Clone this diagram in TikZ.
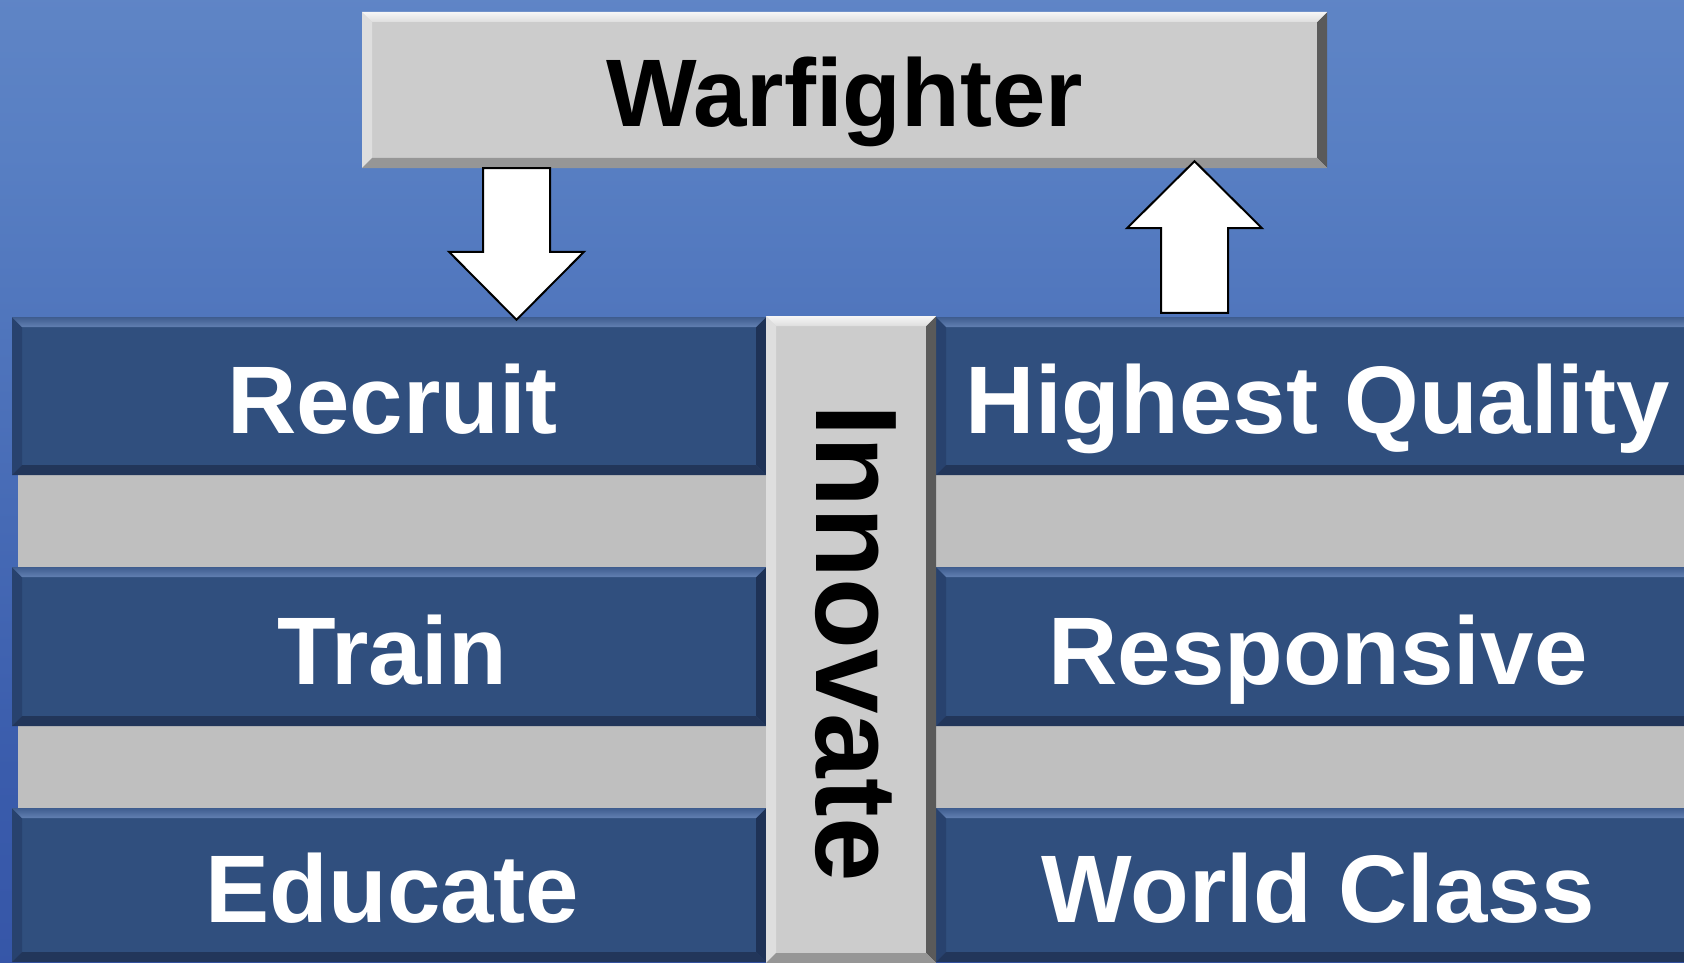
\documentclass[tikz,border=0pt]{standalone}
\usepackage{fontspec}
\setmainfont{Liberation Sans}
\usetikzlibrary{calc}
\definecolor{bgtop}{RGB}{116,150,206}
\definecolor{bgmid}{RGB}{88,127,195}
\definecolor{bgmidb}{RGB}{58,92,172}
\definecolor{bgbot}{RGB}{44,72,158}
\definecolor{bface}{RGB}{48,79,126}
\definecolor{btopa}{RGB}{62,92,142}
\definecolor{btopb}{RGB}{98,128,178}
\definecolor{bleft}{RGB}{40,66,110}
\definecolor{bright}{RGB}{30,50,86}
\definecolor{bbot}{RGB}{34,54,90}
\definecolor{gface}{RGB}{204,204,204}
\definecolor{gtopa}{RGB}{246,246,246}
\definecolor{gtopb}{RGB}{222,222,222}
\definecolor{gleft}{RGB}{222,222,222}
\definecolor{gright}{RGB}{90,90,90}
\definecolor{gbot}{RGB}{150,150,150}
\definecolor{band}{RGB}{191,191,191}
\pgfdeclareverticalshading{bgshade}{100bp}{color(0bp)=(bgbot); color(35bp)=(bgmidb); color(67bp)=(bgmid); color(100bp)=(bgtop)}
\newcommand\boxfont{\fontsize{96pt}{96pt}\selectfont\bfseries}
\newcommand\innfont{\fontsize{116pt}{116pt}\selectfont\bfseries}
\tikzset{
  bevel/.style n args={5}{path picture={
    \path (path picture bounding box.north west) coordinate (pNW)
          (path picture bounding box.north east) coordinate (pNE)
          (path picture bounding box.south west) coordinate (pSW)
          (path picture bounding box.south east) coordinate (pSE);
    \fill[#3] (pNW) -- (pSW) -- ([shift={(#1,#1)}]pSW) -- ([shift={(#1,-#1)}]pNW) -- cycle;
    \fill[#4] (pNE) -- (pSE) -- ([shift={(-#1,#1)}]pSE) -- ([shift={(-#1,-#1)}]pNE) -- cycle;
    \fill[#5] (pSW) -- (pSE) -- ([shift={(-#1,#1)}]pSE) -- ([shift={(#1,#1)}]pSW) -- cycle;
    \shade[#2] (pNW) -- (pNE) -- ([shift={(-#1,-#1)}]pNE) -- ([shift={(#1,-#1)}]pNW) -- cycle;
  }},
  bluebox/.style={rectangle, fill=bface, text=white, font=\boxfont,
    text height=75pt, text depth=0pt, inner sep=0pt,
    bevel={10}{top color=btopa, bottom color=btopb}{fill=bleft}{fill=bright}{fill=bbot}},
  graybox/.style={rectangle, fill=gface, text=black, inner sep=0pt,
    bevel={10}{top color=gtopa, bottom color=gtopb}{fill=gleft}{fill=gright}{fill=gbot}},
  bandbox/.style={rectangle, fill=band, inner sep=0pt},
  blockarrow/.style={fill=white, draw=black, line width=2pt, line join=miter},
}
\begin{document}
\begin{tikzpicture}[x=1pt,y=1pt]
\useasboundingbox (0,0) rectangle (1684,-963);
\clip (0,0) rectangle (1684,-963);
\shade[shading=bgshade] (0,0) rectangle (1684,-963);
% gray bands
\node[bandbox, minimum width=748, minimum height=92] (bandL1) at (392,-521) {};
\node[bandbox, minimum width=748, minimum height=82] (bandL2) at (392,-767) {};
\node[bandbox, minimum width=750, minimum height=92] (bandR1) at (1311,-521) {};
\node[bandbox, minimum width=750, minimum height=82] (bandR2) at (1311,-767) {};
% top box
\node[graybox, font=\boxfont, text height=73pt, text depth=0pt, minimum width=965, minimum height=156] (warf) at (844.5,-90) {Warfighter};
% left column
\node[bluebox, minimum width=754, minimum height=158] (recruit) at (389,-396) {\hspace*{7pt}Recruit};
\node[bluebox, minimum width=754, minimum height=159] (train) at (389,-646.5) {\hspace*{7pt}Train};
\node[bluebox, minimum width=754, minimum height=154] (educate) at (389,-885) {\hspace*{7pt}Educate};
% right column
\node[bluebox, minimum width=764, minimum height=158] (hq) at (1318,-396) {Highest Quality};
\node[bluebox, minimum width=764, minimum height=159] (resp) at (1318,-646.5) {Responsive};
\node[bluebox, minimum width=764, minimum height=154] (world) at (1318,-885) {World Class};
% center bar
\node[graybox, minimum width=170, minimum height=647] (innov) at (851,-639.5) {};
\node[font=\innfont, text=black, text height=83pt, text depth=0pt, inner sep=0pt, rotate=-90] (innovt) at (858,-643) {Innovate};
% arrows
\draw[blockarrow] let \p1=(warf.south), \p2=(recruit.north) in
  (483pt,\y1) -- (550pt,\y1) -- (550pt,\y2+65pt) -- (584pt,\y2+65pt) -- (516.5pt,\y2-3pt)
  -- (449pt,\y2+65pt) -- (483pt,\y2+65pt) -- cycle;
\draw[blockarrow] let \p1=(hq.north), \p2=(warf.south) in
  (1161pt,\y1+4pt) -- (1228pt,\y1+4pt) -- (1228pt,\y2-60pt) -- (1262pt,\y2-60pt) -- (1194.5pt,\y2+7pt)
  -- (1127pt,\y2-60pt) -- (1161pt,\y2-60pt) -- cycle;
\end{tikzpicture}
\end{document}
